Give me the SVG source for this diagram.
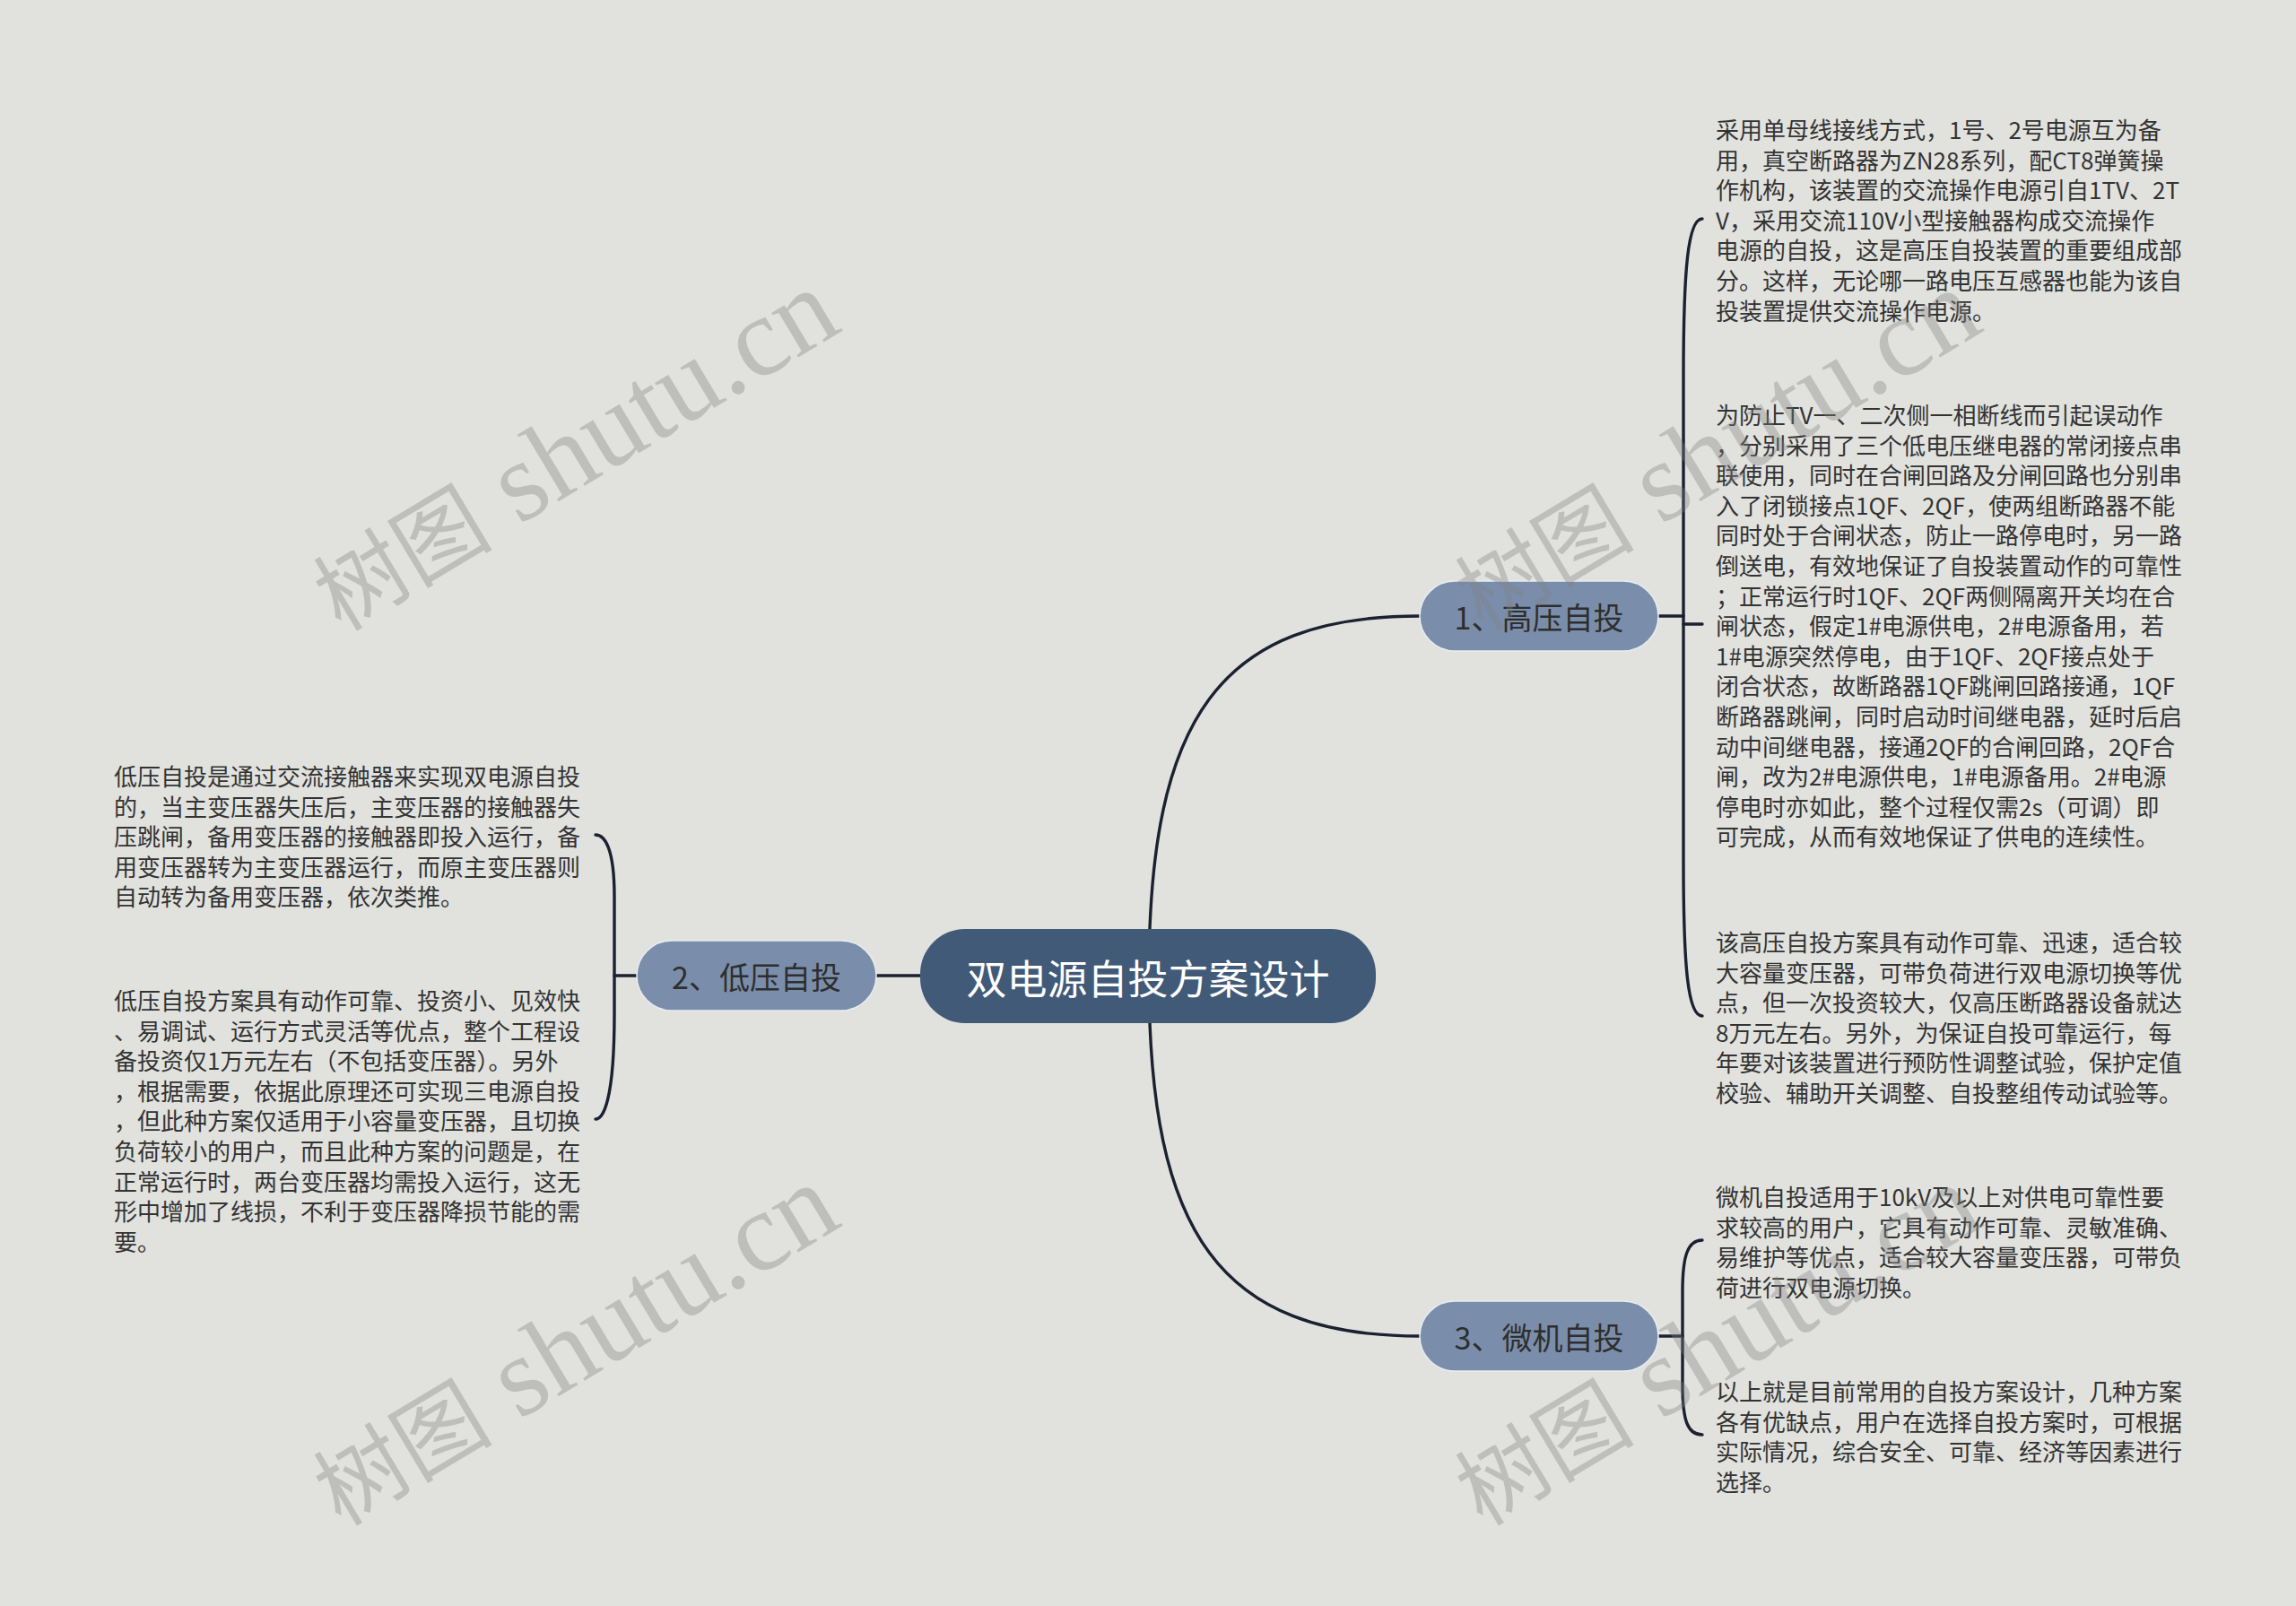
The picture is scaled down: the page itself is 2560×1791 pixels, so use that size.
<svg xmlns="http://www.w3.org/2000/svg" width="2560" height="1791" viewBox="0 0 2560 1791">
<style>
.bg{fill:#e1e2de}
.conn{fill:none;stroke:#1b2131;stroke-width:3.4;stroke-linecap:round}
.root rect{fill:#415a77}
.root text{fill:#ffffff;font-size:45px}
.main rect{fill:#7a8eab;stroke:#e9edf2;stroke-width:1.5}
.main text{fill:#2e2e2e;font-size:34px}
.note text{fill:#333333;font-size:26px}
.lbl{font-family:"Noto Sans CJK SC","Microsoft YaHei",sans-serif;dominant-baseline:central}
.c{text-anchor:middle}
.wm{font-family:"Liberation Serif","Noto Sans CJK SC",serif;font-size:126px;fill:#808080;fill-opacity:0.36}
.wm .cj{font-size:100px}
</style>
<rect class="bg" x="0" y="0" width="2560" height="1791"/>

<g id="connectors">
  <path class="conn" d="M977,1088 H1026"/>
  <path class="conn" d="M1281,1088 C1281,800 1360,687 1583,687"/>
  <path class="conn" d="M1281,1088 C1281,1376 1360,1490 1583,1490"/>
  <path class="conn" d="M1849,687 H1877"/>
  <path class="conn" d="M1898,244 C1882,244 1877,300 1877,420 L1877,960 C1877,1080 1882,1133 1898,1133"/>
  <path class="conn" d="M1877,696 H1898"/>
  <path class="conn" d="M1849,1490 H1876"/>
  <path class="conn" d="M1898,1383 C1882,1383 1876,1400 1876,1440 L1876,1545 C1876,1585 1882,1600 1898,1600"/>
  <path class="conn" d="M710,1088 H685"/>
  <path class="conn" d="M664,931 C674,931 685,945 685,1000 L685,1130 C685,1230 672,1248 664,1248"/>
</g>

<g id="root" class="root">
  <rect x="1026" y="1036" width="508" height="105" rx="50"/>
  <text class="lbl c" x="1280" y="1089">双电源自投方案设计</text>
</g>

<g id="n1" class="main">
  <rect x="1583" y="648" width="266" height="78" rx="39"/>
  <text class="lbl c" x="1716" y="687">1、高压自投</text>
</g>
<g id="n2" class="main">
  <rect x="710" y="1049" width="267" height="78" rx="39"/>
  <text class="lbl c" x="843.5" y="1088">2、低压自投</text>
</g>
<g id="n3" class="main">
  <rect x="1583" y="1451" width="266" height="78" rx="39"/>
  <text class="lbl c" x="1716" y="1490">3、微机自投</text>
</g>

<g id="n1a" class="note">
  <text class="lbl" x="1913" y="143">
    <tspan x="1913">采用单母线接线方式，1号、2号电源互为备</tspan>
    <tspan x="1913" dy="33.6">用，真空断路器为ZN28系列，配CT8弹簧操</tspan>
    <tspan x="1913" dy="33.6">作机构，该装置的交流操作电源引自1TV、2T</tspan>
    <tspan x="1913" dy="33.6">V，采用交流110V小型接触器构成交流操作</tspan>
    <tspan x="1913" dy="33.6">电源的自投，这是高压自投装置的重要组成部</tspan>
    <tspan x="1913" dy="33.6">分。这样，无论哪一路电压互感器也能为该自</tspan>
    <tspan x="1913" dy="33.6">投装置提供交流操作电源。</tspan>
  </text>
</g>

<g id="n1b" class="note">
  <text class="lbl" x="1913" y="461">
    <tspan x="1913">为防止TV一、二次侧一相断线而引起误动作</tspan>
    <tspan x="1913" dy="33.6">，分别采用了三个低电压继电器的常闭接点串</tspan>
    <tspan x="1913" dy="33.6">联使用，同时在合闸回路及分闸回路也分别串</tspan>
    <tspan x="1913" dy="33.6">入了闭锁接点1QF、2QF，使两组断路器不能</tspan>
    <tspan x="1913" dy="33.6">同时处于合闸状态，防止一路停电时，另一路</tspan>
    <tspan x="1913" dy="33.6">倒送电，有效地保证了自投装置动作的可靠性</tspan>
    <tspan x="1913" dy="33.6">；正常运行时1QF、2QF两侧隔离开关均在合</tspan>
    <tspan x="1913" dy="33.6">闸状态，假定1#电源供电，2#电源备用，若</tspan>
    <tspan x="1913" dy="33.6">1#电源突然停电，由于1QF、2QF接点处于</tspan>
    <tspan x="1913" dy="33.6">闭合状态，故断路器1QF跳闸回路接通，1QF</tspan>
    <tspan x="1913" dy="33.6">断路器跳闸，同时启动时间继电器，延时后启</tspan>
    <tspan x="1913" dy="33.6">动中间继电器，接通2QF的合闸回路，2QF合</tspan>
    <tspan x="1913" dy="33.6">闸，改为2#电源供电，1#电源备用。2#电源</tspan>
    <tspan x="1913" dy="33.6">停电时亦如此，整个过程仅需2s（可调）即</tspan>
    <tspan x="1913" dy="33.6">可完成，从而有效地保证了供电的连续性。</tspan>
  </text>
</g>

<g id="n1c" class="note">
  <text class="lbl" x="1913" y="1049">
    <tspan x="1913">该高压自投方案具有动作可靠、迅速，适合较</tspan>
    <tspan x="1913" dy="33.6">大容量变压器，可带负荷进行双电源切换等优</tspan>
    <tspan x="1913" dy="33.6">点，但一次投资较大，仅高压断路器设备就达</tspan>
    <tspan x="1913" dy="33.6">8万元左右。另外，为保证自投可靠运行，每</tspan>
    <tspan x="1913" dy="33.6">年要对该装置进行预防性调整试验，保护定值</tspan>
    <tspan x="1913" dy="33.6">校验、辅助开关调整、自投整组传动试验等。</tspan>
  </text>
</g>

<g id="n3a" class="note">
  <text class="lbl" x="1913" y="1333">
    <tspan x="1913">微机自投适用于10kV及以上对供电可靠性要</tspan>
    <tspan x="1913" dy="33.6">求较高的用户，它具有动作可靠、灵敏准确、</tspan>
    <tspan x="1913" dy="33.6">易维护等优点，适合较大容量变压器，可带负</tspan>
    <tspan x="1913" dy="33.6">荷进行双电源切换。</tspan>
  </text>
</g>

<g id="n3b" class="note">
  <text class="lbl" x="1913" y="1550">
    <tspan x="1913">以上就是目前常用的自投方案设计，几种方案</tspan>
    <tspan x="1913" dy="33.6">各有优缺点，用户在选择自投方案时，可根据</tspan>
    <tspan x="1913" dy="33.6">实际情况，综合安全、可靠、经济等因素进行</tspan>
    <tspan x="1913" dy="33.6">选择。</tspan>
  </text>
</g>

<g id="n2a" class="note">
  <text class="lbl" x="127" y="864">
    <tspan x="127">低压自投是通过交流接触器来实现双电源自投</tspan>
    <tspan x="127" dy="33.6">的，当主变压器失压后，主变压器的接触器失</tspan>
    <tspan x="127" dy="33.6">压跳闸，备用变压器的接触器即投入运行，备</tspan>
    <tspan x="127" dy="33.6">用变压器转为主变压器运行，而原主变压器则</tspan>
    <tspan x="127" dy="33.6">自动转为备用变压器，依次类推。</tspan>
  </text>
</g>

<g id="n2b" class="note">
  <text class="lbl" x="127" y="1114">
    <tspan x="127">低压自投方案具有动作可靠、投资小、见效快</tspan>
    <tspan x="127" dy="33.6">、易调试、运行方式灵活等优点，整个工程设</tspan>
    <tspan x="127" dy="33.6">备投资仅1万元左右（不包括变压器）。另外</tspan>
    <tspan x="127" dy="33.6">，根据需要，依据此原理还可实现三电源自投</tspan>
    <tspan x="127" dy="33.6">，但此种方案仅适用于小容量变压器，且切换</tspan>
    <tspan x="127" dy="33.6">负荷较小的用户，而且此种方案的问题是，在</tspan>
    <tspan x="127" dy="33.6">正常运行时，两台变压器均需投入运行，这无</tspan>
    <tspan x="127" dy="33.6">形中增加了线损，不利于变压器降损节能的需</tspan>
    <tspan x="127" dy="33.6">要。</tspan>
  </text>
</g>

<g id="watermarks">
  <text class="wm" transform="translate(380,705) rotate(-31)"><tspan class="cj">树图</tspan> shutu.cn</text>
  <text class="wm" transform="translate(380,1703) rotate(-31)"><tspan class="cj">树图</tspan> shutu.cn</text>
  <text class="wm" transform="translate(1653,705) rotate(-31)"><tspan class="cj">树图</tspan> shutu.cn</text>
  <text class="wm" transform="translate(1653,1703) rotate(-31)"><tspan class="cj">树图</tspan> shutu.cn</text>
</g>
</svg>
